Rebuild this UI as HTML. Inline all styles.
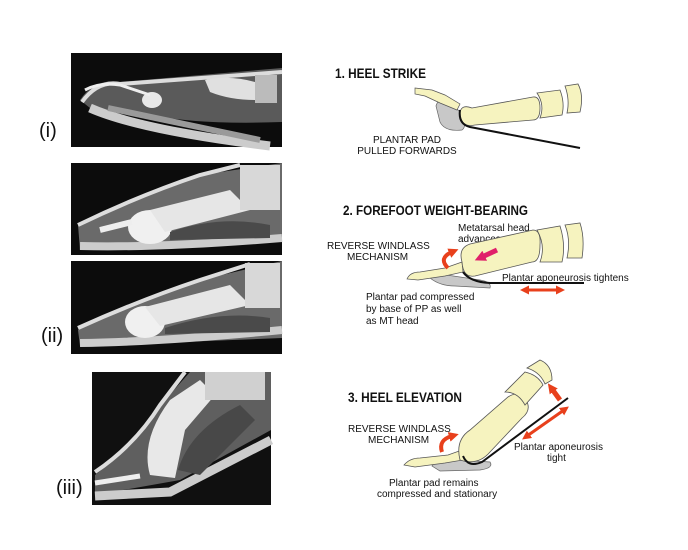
<!DOCTYPE html>
<html><head><style>
html,body{margin:0;padding:0;background:#fff}
svg{display:block}
text{font-family:"Liberation Sans",Arial,sans-serif}
</style></head><body>
<svg width="688" height="550" viewBox="0 0 688 550" xmlns="http://www.w3.org/2000/svg">
<defs>
<marker id="ar" markerWidth="10" markerHeight="10" refX="3" refY="5" orient="auto" markerUnits="userSpaceOnUse"><path d="M0,0 L10,5 L0,10z" fill="#e8401c"/></marker>
<marker id="arm" markerWidth="11" markerHeight="11" refX="3" refY="5.5" orient="auto" markerUnits="userSpaceOnUse"><path d="M0,0 L11,5.5 L0,11z" fill="#e0206a"/></marker>
<marker id="ar2" markerWidth="9" markerHeight="9" refX="3" refY="4.5" orient="auto-start-reverse" markerUnits="userSpaceOnUse"><path d="M0,0 L9,4.5 L0,9z" fill="#e8401c"/></marker>
</defs>

<!-- MRI panel (i) -->
<rect x="71" y="53" width="211" height="94" fill="#0c0c0c"/>
<path d="M80,100 Q95,78 120,82 L282,68 L282,122 Q200,125 150,115 L95,112z" fill="#5a5a5a"/>
<path d="M82,102 Q98,80 120,84 L282,72" fill="none" stroke="#ddd" stroke-width="4"/>
<path d="M90,108 Q140,130 270,146" fill="none" stroke="#ccc" stroke-width="9"/>
<path d="M108,108 L260,140" stroke="#9a9a9a" stroke-width="6"/>
<ellipse cx="152" cy="100" rx="10" ry="8" fill="#e8e8e8"/>
<path d="M205,80 Q230,75 255,82 L255,100 Q230,100 210,92z" fill="#e0e0e0"/>
<rect x="255" y="75" width="22" height="28" fill="#bbb"/>
<path d="M85,90 Q100,82 120,85 L150,95" fill="none" stroke="#eee" stroke-width="3"/>

<!-- MRI panel 2 -->
<rect x="71" y="163" width="211" height="92" fill="#0c0c0c"/>
<path d="M78,225 Q140,195 200,175 L282,163 L282,240 L80,250z" fill="#6a6a6a"/>
<path d="M78,225 Q140,195 200,175 L240,165" fill="none" stroke="#ddd" stroke-width="4"/>
<path d="M80,246 Q160,248 282,238" fill="none" stroke="#ccc" stroke-width="8"/>
<ellipse cx="150" cy="227" rx="22" ry="17" fill="#f0f0f0"/>
<path d="M150,210 L230,190 L250,210 L165,232z" fill="#e6e6e6"/>
<path d="M170,232 Q220,215 270,225 L270,238 L170,240z" fill="#4a4a4a"/>
<rect x="240" y="165" width="40" height="45" fill="#d8d8d8"/>
<path d="M100,230 L132,222" stroke="#eee" stroke-width="6"/>

<!-- MRI panel 3 -->
<rect x="71" y="261" width="211" height="93" fill="#0c0c0c"/>
<path d="M78,330 Q140,300 200,280 L282,261 L282,338 L80,346z" fill="#6a6a6a"/>
<path d="M78,328 Q140,300 200,280 L250,264" fill="none" stroke="#ddd" stroke-width="4"/>
<path d="M80,343 Q160,342 282,330" fill="none" stroke="#ccc" stroke-width="8"/>
<ellipse cx="145" cy="322" rx="20" ry="16" fill="#f0f0f0"/>
<path d="M145,307 L230,285 L250,305 L160,326z" fill="#e6e6e6"/>
<path d="M165,328 Q220,310 270,318 L270,332 L165,334z" fill="#4a4a4a"/>
<rect x="245" y="263" width="35" height="45" fill="#d8d8d8"/>

<!-- MRI panel (iii) -->
<rect x="92" y="372" width="179" height="133" fill="#101010"/>
<path d="M95,475 Q140,440 165,400 L190,372 L271,372 L271,430 L180,480 L95,495z" fill="#5f5f5f"/>
<path d="M95,472 Q135,445 160,405 L185,372" fill="none" stroke="#ddd" stroke-width="4"/>
<path d="M95,496 L170,492 L271,440" fill="none" stroke="#ccc" stroke-width="9"/>
<path d="M150,475 Q140,440 170,400 L200,380 L215,395 L185,430 L175,478z" fill="#e8e8e8"/>
<path d="M178,470 Q190,430 240,405 L255,420 L200,475z" fill="#484848"/>
<rect x="205" y="372" width="60" height="28" fill="#d0d0d0"/>
<path d="M95,483 L140,476" stroke="#eee" stroke-width="5"/>

<!-- labels -->
<text x="39" y="137" font-size="20" fill="#111">(i)</text>
<text x="41" y="342" font-size="20" fill="#111">(ii)</text>
<text x="56" y="494" font-size="20" fill="#111">(iii)</text>

<!-- Diagram 1 -->
<text x="335" y="78" font-size="14" font-weight="bold" textLength="91" lengthAdjust="spacingAndGlyphs" fill="#111">1. HEEL STRIKE</text>
<path d="M436,106 Q438,98 448,100 L460,112 Q468,126 462,130 Q445,132 440,122z" fill="#c8c8c8" stroke="#666" stroke-width="0.7"/>
<path d="M415,88 L432,90 L445,95 L460,104 L457,110 L440,103 L425,96 L415,94z" fill="#f6f3bf" stroke="#555" stroke-width="0.7"/>
<path d="M460,112 Q462,104 472,108 L533,97 Q540,96 540,108 Q540,120 533,120 L475,125 Q460,128 460,112z" fill="#f6f3bf" stroke="#555" stroke-width="0.8"/>
<path d="M537,93 L560,90 Q565,103 562,115 L540,118 Q545,105 537,93z" fill="#f6f3bf" stroke="#555" stroke-width="0.8"/>
<path d="M565,86 L578,84 Q584,95 580,112 L567,113 Q570,100 565,86z" fill="#f6f3bf" stroke="#555" stroke-width="0.8"/>
<path d="M460,110 Q458,124 470,127 L580,148" fill="none" stroke="#111" stroke-width="2"/>
<text x="407" y="143" font-size="10" text-anchor="middle" fill="#111">PLANTAR PAD</text>
<text x="407" y="154" font-size="10" text-anchor="middle" fill="#111">PULLED FORWARDS</text>

<!-- Diagram 2 -->
<text x="343" y="215" font-size="14" font-weight="bold" textLength="185" lengthAdjust="spacingAndGlyphs" fill="#111">2. FOREFOOT WEIGHT-BEARING</text>
<text x="458" y="231" font-size="10" fill="#111">Metatarsal head</text>
<text x="458" y="242" font-size="10" fill="#111">advances</text>
<text x="327" y="249" font-size="10" fill="#111">REVERSE WINDLASS</text>
<text x="347" y="260" font-size="10" fill="#111">MECHANISM</text>
<path d="M430,278 Q440,286 455,286 L490,288 Q492,282 480,280 L440,274z" fill="#c8c8c8" stroke="#666" stroke-width="0.7"/>
<path d="M407,279 Q410,272 420,272 L445,268 L462,262 L463,272 L445,276 L418,280z" fill="#f6f3bf" stroke="#555" stroke-width="0.7"/>
<path d="M462,262 Q458,248 470,244 L533,230 Q541,230 540,245 Q540,262 532,262 L475,276 Q463,278 462,262z" fill="#f6f3bf" stroke="#555" stroke-width="0.8"/>
<path d="M537,230 L560,226 Q566,245 562,262 L540,262 Q546,246 537,230z" fill="#f6f3bf" stroke="#555" stroke-width="0.8"/>
<path d="M565,225 L580,223 Q585,238 582,258 L567,258 Q571,240 565,225z" fill="#f6f3bf" stroke="#555" stroke-width="0.8"/>
<path d="M463,272 Q470,282 490,283 L584,283" fill="none" stroke="#111" stroke-width="2"/>
<text x="502" y="281" font-size="10" fill="#111">Plantar aponeurosis tightens</text>
<path d="M448,268 Q438,258 452,252" fill="none" stroke="#e8401c" stroke-width="4" marker-end="url(#ar)"/>
<path d="M497,250 L482,257" stroke="#e0206a" stroke-width="5" marker-end="url(#arm)"/>
<path d="M526,290 L559,290" stroke="#e8401c" stroke-width="3" marker-start="url(#ar2)" marker-end="url(#ar2)"/>
<text x="366" y="300" font-size="10" fill="#111">Plantar pad compressed</text>
<text x="366" y="312" font-size="10" fill="#111">by base of PP as well</text>
<text x="366" y="324" font-size="10" fill="#111">as MT head</text>

<!-- Diagram 3 -->
<text x="348" y="402" font-size="14" font-weight="bold" textLength="114" lengthAdjust="spacingAndGlyphs" fill="#111">3. HEEL ELEVATION</text>
<path d="M432,466 Q438,458 460,460 L490,462 Q494,468 480,470 L440,471z" fill="#c8c8c8" stroke="#666" stroke-width="0.7"/>
<path d="M404,465 Q410,458 420,458 L448,455 L462,450 L463,460 L445,463 L415,467z" fill="#f6f3bf" stroke="#555" stroke-width="0.7"/>
<path d="M460,460 Q455,440 470,430 L508,397 Q518,390 526,400 Q532,410 522,418 L490,452 Q478,466 460,460z" fill="#f6f3bf" stroke="#555" stroke-width="0.8"/>
<path d="M505,392 L525,372 Q538,375 543,385 L525,405 Q518,392 505,392z" fill="#f6f3bf" stroke="#555" stroke-width="0.8"/>
<path d="M527,368 L540,360 Q552,365 552,380 L545,384 Q540,372 527,368z" fill="#f6f3bf" stroke="#555" stroke-width="0.8"/>
<path d="M463,456 Q468,468 482,462 L568,398" fill="none" stroke="#111" stroke-width="2"/>
<path d="M560,400 L552,389" stroke="#e8401c" stroke-width="5" marker-end="url(#ar)"/>
<path d="M527,436 L564,410" stroke="#e8401c" stroke-width="3" marker-start="url(#ar2)" marker-end="url(#ar2)"/>
<text x="348" y="432" font-size="10" fill="#111">REVERSE WINDLASS</text>
<text x="368" y="443" font-size="10" fill="#111">MECHANISM</text>
<path d="M442,452 Q438,440 452,436" fill="none" stroke="#e8401c" stroke-width="4" marker-end="url(#ar)"/>
<text x="514" y="450" font-size="10" fill="#111">Plantar aponeurosis</text>
<text x="547" y="461" font-size="10" fill="#111">tight</text>
<text x="389" y="486" font-size="10" fill="#111">Plantar pad remains</text>
<text x="377" y="497" font-size="10" fill="#111">compressed and stationary</text>
</svg>
</body></html>
